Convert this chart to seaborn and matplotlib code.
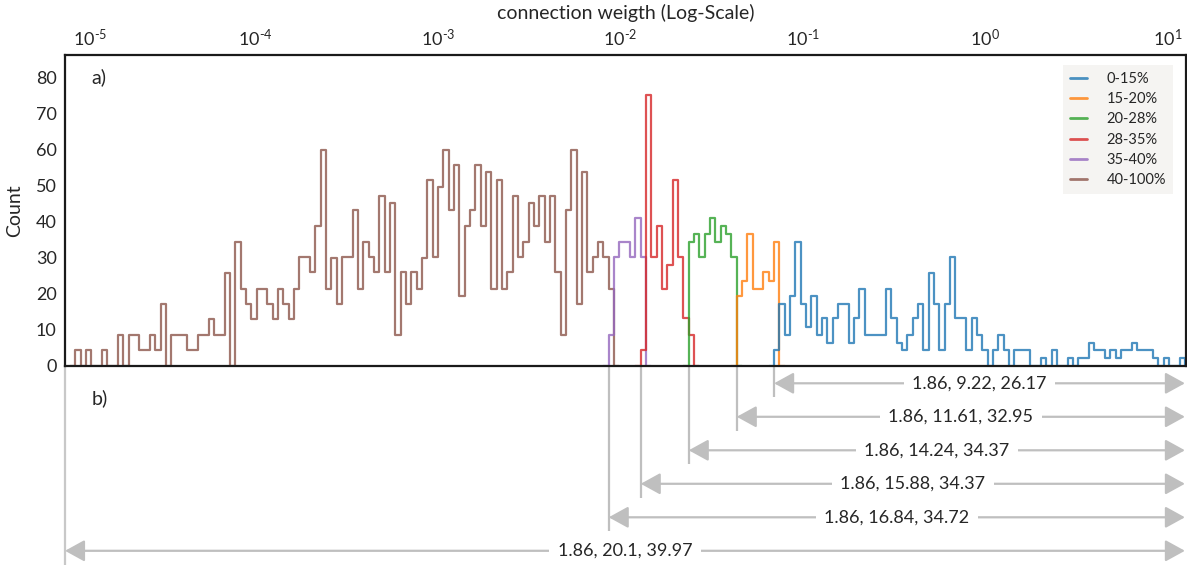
import numpy as np
import pandas as pd
import matplotlib
matplotlib.use("Agg")
import matplotlib.pyplot as plt
from matplotlib.lines import Line2D
from matplotlib.ticker import NullFormatter, NullLocator
import seaborn as sns

# ---------------- data ----------------
# histogram bins: equal width in log10 space
LOG_MIN, LOG_MAX, N_BINS = -4.99, 1.094, 208

groups = ["0-15%", "15-20%", "20-28%", "28-35%", "35-40%", "40-100%"]
stats_labels = ["1.86, 9.22, 26.17", "1.86, 11.61, 32.95", "1.86, 14.24, 34.37",
                "1.86, 15.88, 34.37", "1.86, 16.84, 34.72", "1.86, 20.1, 39.97"]
decades = [-5, -4, -3, -2, -1, 0, 1]

# index of the first bin occupied by every group
first_bin = {"0-15%": 131, "15-20%": 124, "20-28%": 115,
             "28-35%": 106, "35-40%": 100, "40-100%": 0}

counts_0_15 = [4.4, 17.3, 8.6, 19.4, 34.4, 17.3, 10.8, 19.4, 8.6, 13.2,
               6.5, 13.2, 17.3, 17.3, 6.5, 13.2, 21.5, 8.6, 8.6, 8.6,
               8.6, 21.5, 13.2, 6.5, 4.4, 8.6, 13.2, 17.3, 4.4, 25.9,
               17.3, 4.4, 17.3, 30.2, 13.2, 13.2, 4.4, 13.2, 8.6, 4.4,
               0, 4.4, 8.6, 4.4, 0, 4.4, 4.4, 4.4, 0, 0,
               2.2, 0, 4.4, 0, 0, 2.2, 0, 2.2, 2.2, 6.5,
               4.4, 4.4, 2.2, 4.4, 2.2, 4.4, 4.4, 6.5, 4.4, 4.4,
               4.4, 2.2, 0, 2.2, 0, 0, 2.2]
counts_15_20 = [19.4, 23.5, 36.7, 21.5, 21.5, 26.0, 23.5, 34.4]
counts_20_28 = [34.4, 36.7, 30.2, 36.7, 41.1, 34.4, 38.8, 36.7, 30.2]
counts_28_35 = [4.4, 75.3, 30.2, 38.8, 21.5, 28.0, 51.7, 30.2, 13.2, 8.6]
counts_35_40 = [8.6, 30.2, 34.4, 34.4, 30.2, 41.1, 30.2]
counts_40_100 = [4.4, 0, 4.4, 0, 0, 4.4, 0, 0, 8.6, 0,
                 8.6, 8.6, 4.4, 4.4, 8.6, 4.4, 17.2, 0, 8.6, 8.6,
                 8.6, 4.4, 4.4, 8.6, 8.6, 13.0, 8.6, 8.6, 25.9, 0,
                 34.4, 21.5, 17.2, 13.0, 21.5, 21.5, 17.2, 13.0, 21.5, 17.2,
                 13.0, 21.5, 30.2, 30.2, 26.0, 38.8, 60.0, 21.5, 30.0, 17.2,
                 30.2, 30.2, 43.2, 21.5, 34.4, 30.2, 26.0, 47.2, 26.0, 45.2,
                 8.6, 26.0, 17.2, 26.0, 21.5, 30.0, 51.7, 30.2, 49.7, 60.0,
                 43.2, 55.8, 19.4, 38.8, 43.2, 55.8, 38.8, 53.8, 21.5, 51.7,
                 21.5, 26.0, 47.2, 30.2, 34.4, 45.2, 38.8, 47.2, 34.4, 47.2,
                 26.0, 8.6, 43.2, 60.0, 17.2, 53.8, 26.0, 30.2, 34.4, 30.2,
                 21.5]
counts = {"0-15%": counts_0_15, "15-20%": counts_15_20, "20-28%": counts_20_28,
          "28-35%": counts_28_35, "35-40%": counts_35_40, "40-100%": counts_40_100}

# ---------------- style ----------------
sns.set_style("white")
plt.rcParams["font.family"] = ["Lato", "DejaVu Sans"]
plt.rcParams["mathtext.fontset"] = "custom"
plt.rcParams["mathtext.rm"] = "Lato"
plt.rcParams["mathtext.it"] = "Lato:italic"
plt.rcParams["mathtext.bf"] = "Lato:bold"
plt.rcParams["axes.unicode_minus"] = False

palette = dict(zip(groups, sns.color_palette("tab10", 6)))
GRAY = "#bfbfbf"
W, H = 1187, 565

fig = plt.figure(figsize=(W / 100, H / 100), dpi=100)
ax2 = fig.add_axes([65 / W, 0, 1121 / W, 199 / H])
ax = fig.add_axes([65 / W, 199 / H, 1121 / W, 311 / H])

# padded bin edges (one empty bin on each side so every outline closes at 0)
step = (LOG_MAX - LOG_MIN) / N_BINS
log_edges = LOG_MIN + step * np.arange(-1, N_BINS + 2)

for g in reversed(groups):
    c = np.asarray(counts[g], dtype=float)
    s = first_bin[g]
    n = len(c)
    centers = 10 ** ((log_edges[s + 1:s + n + 1] + log_edges[s + 2:s + n + 2]) / 2)
    df = pd.DataFrame({"weight": centers, "count": c})
    sns.histplot(data=df, x="weight", weights="count",
                 bins=[float(e) for e in log_edges[s:s + n + 3]],
                 element="step", fill=False, log_scale=True, ax=ax,
                 color=palette[g], alpha=0.8, linewidth=1.6)

XMIN, XMAX = 10 ** -5.046, 10 ** 1.10
ax.set_xlim(XMIN, XMAX)
ax.set_ylim(0, 86.3)
ax.set_yticks(range(0, 81, 10))
ax.xaxis.tick_top()
ax.xaxis.set_label_position("top")
ax.xaxis.set_minor_locator(NullLocator())
ax.set_xticks([10.0 ** d for d in decades])
ax.set_xticklabels([r"$\mathdefault{10^{\text{-}%d}}$" % -d if d < 0
                    else r"$\mathdefault{10^{%d}}$" % d for d in decades])
ax.get_xticklabels()[0].set_horizontalalignment("left")
ax.tick_params(axis="both", which="both", length=0, labelsize=13)
ax.tick_params(axis="x", pad=4)
ax.tick_params(axis="y", pad=6)
ax.set_xlabel("connection weigth (Log-Scale)", fontsize=14, labelpad=7)
ax.set_ylabel("Count", fontsize=14, labelpad=9)
for sp in ax.spines.values():
    sp.set_visible(True)
    sp.set_color("#1a1a1a")
    sp.set_linewidth(1.6)
ax.text(0.0238, 0.929, "a)", transform=ax.transAxes, fontsize=14, va="center", ha="left")

handles = [Line2D([], [], color=palette[g], alpha=0.8, lw=2) for g in groups]
leg = ax.legend(handles, groups, loc="upper right", bbox_to_anchor=(0.9885, 0.968),
                fontsize=10.5, frameon=True, fancybox=False, framealpha=1,
                handlelength=1.2, handletextpad=1.3, labelspacing=0.42,
                borderpad=0.5, borderaxespad=0)
leg.get_frame().set_facecolor("#f5f4f2")
leg.get_frame().set_edgecolor("none")

# ---------------- lower panel: ranges ----------------
ax2.set_xscale("log")
ax2.set_xlim(XMIN, XMAX)
ax2.set_ylim(5.424, -0.516)
ax2.xaxis.set_major_locator(NullLocator())
ax2.xaxis.set_minor_locator(NullLocator())
ax2.set_yticks([])
ax2.tick_params(which="both", length=0, labelbottom=False, labelleft=False)
for name, sp in ax2.spines.items():
    sp.set_visible(name == "left")
ax2.spines["left"].set_color("#c8c8c8")
ax2.spines["left"].set_linewidth(1.6)
ax2.text(0.0238, 0.839, "b)", transform=ax2.transAxes, fontsize=14, va="center", ha="left")

x_right = 10 ** LOG_MAX
for k, (g, lab) in enumerate(zip(groups, stats_labels)):
    if g == "40-100%":
        x_left = XMIN
    else:
        x_left = 10 ** (LOG_MIN + step * first_bin[g])
        ax2.plot([x_left, x_left], [-0.516, k + 0.42], color=GRAY, lw=1.6,
                 solid_capstyle="butt")
    ax2.annotate("", xy=(x_right, k), xytext=(x_left, k),
                 arrowprops=dict(arrowstyle="<|-|>,head_length=0.6,head_width=0.33",
                                 color=GRAY, lw=1.6, mutation_scale=20,
                                 shrinkA=0, shrinkB=0))
    xc = 10 ** ((np.log10(x_left) + np.log10(x_right)) / 2)
    ax2.text(xc, k, lab, ha="center", va="center", fontsize=13, zorder=5,
             bbox=dict(facecolor="white", edgecolor="none", pad=6))

fig.savefig("out.png", dpi=100)
